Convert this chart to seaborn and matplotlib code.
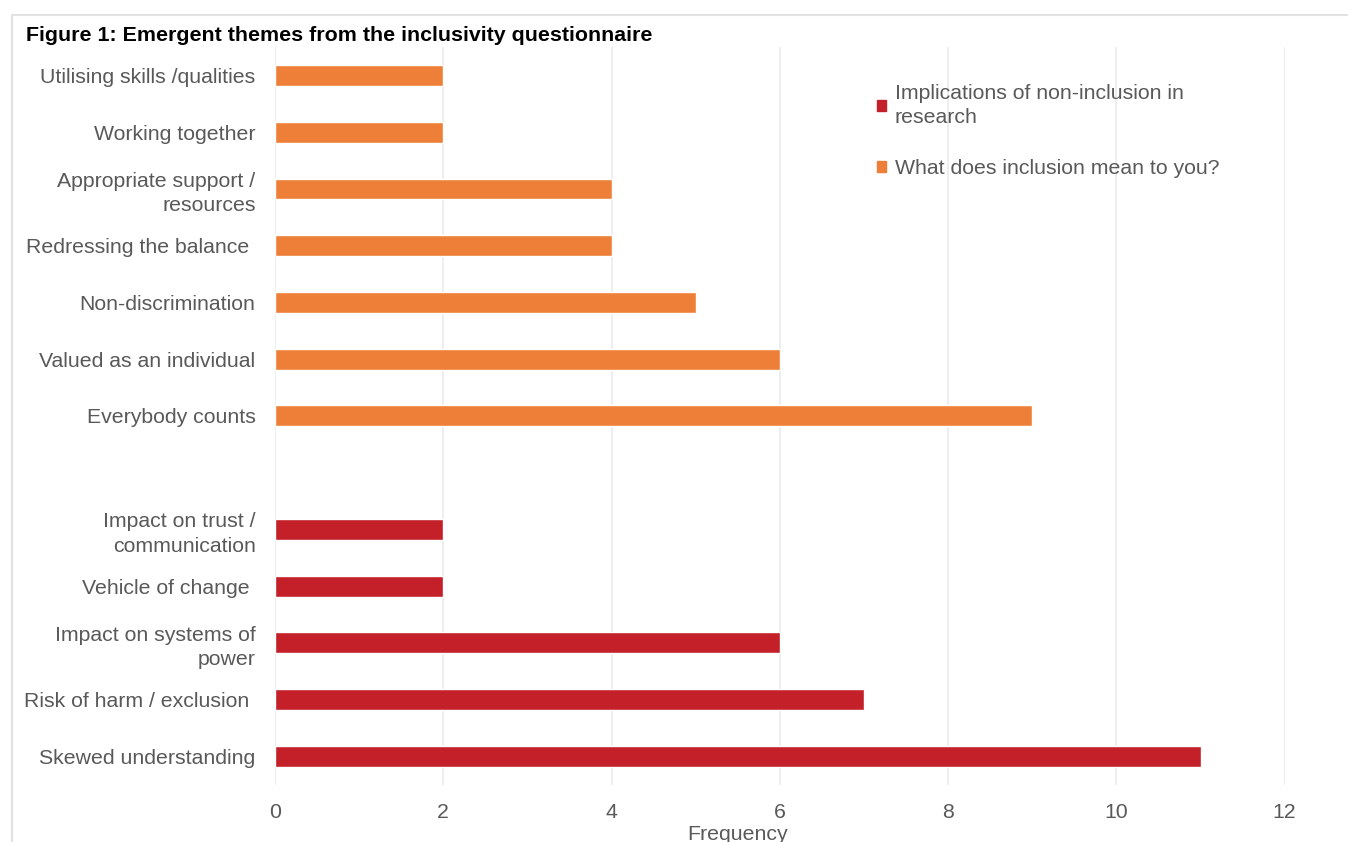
import pandas as pd
import seaborn as sns
import matplotlib.pyplot as plt
from matplotlib.patches import Rectangle, Patch

# chart data (top to bottom, blank slot separates the two groups)
themes = ['Utilising skills /qualities', 'Working together', 'Appropriate support /\nresources',
          'Redressing the balance ', 'Non-discrimination', 'Valued as an individual',
          'Everybody counts', ' ', 'Impact on trust /\ncommunication', 'Vehicle of change ',
          'Impact on systems of\npower', 'Risk of harm / exclusion ', 'Skewed understanding']
frequency = [2, 2, 4, 4, 5, 6, 9, None, 2, 2, 6, 7, 11]
group = ['What does inclusion mean to you?'] * 7 + [None] + ['Implications of non-inclusion in research'] * 5

df = pd.DataFrame({'Theme': themes, 'Frequency': frequency, 'Group': group}).dropna()

colors = {'Implications of non-inclusion in research': '#C3202A',
          'What does inclusion mean to you?': '#EE7F38'}

sns.set_theme(style='white')
plt.rcParams['font.family'] = ['Liberation Sans', 'DejaVu Sans']

fig = plt.figure(figsize=(13.48, 8.42), dpi=100)
ax = fig.add_axes([0.204, 0.068, 0.749, 0.876])

sns.barplot(data=df, y='Theme', x='Frequency', hue='Group', order=themes,
            palette=colors, saturation=1, dodge=False, width=0.37, legend=False, ax=ax)

ax.set_xlim(0, 12)
ax.set_xticks(range(0, 13, 2))
ax.xaxis.grid(True, color='#EBEBEB', linewidth=1.2)
ax.set_axisbelow(True)
for s in ax.spines.values():
    s.set_visible(False)
ax.tick_params(axis='both', length=0, labelsize=15.3, labelcolor='#595959', pad=14)
ax.tick_params(axis='x', pad=13)
for t in ax.get_yticklabels():
    t.set_linespacing(1.35)
ax.set_ylabel('')
ax.set_xlabel('Frequency', fontsize=15.3, color='#595959')
ax.xaxis.set_label_coords(0.458, -0.055)
ax.xaxis.label.set_va('top')

# legend, implications first
handles = [Patch(color=colors['Implications of non-inclusion in research']),
           Patch(color=colors['What does inclusion mean to you?'])]
labels = ['Implications of non-inclusion in\nresearch', 'What does inclusion mean to you?']
leg = ax.legend(handles, labels, loc='upper left', bbox_to_anchor=(0.577, 0.976), frameon=False,
                fontsize=15.3, labelcolor='#595959', handlelength=0.45, handleheight=0.45,
                handletextpad=0.4, labelspacing=1.5)
for t in leg.get_texts():
    t.set_linespacing(1.35)

fig.text(0.019, 0.958, 'Figure 1: Emergent themes from the inclusivity questionnaire',
         fontsize=15.4, fontweight='bold', color='black', va='center')

# light frame around the chart
fig.patches.append(Rectangle((0.009, -0.1), 1.1, 1.082, transform=fig.transFigure,
                             fill=False, edgecolor='#E2E2E2', linewidth=1.5))

fig.savefig('out.png', dpi=100)
